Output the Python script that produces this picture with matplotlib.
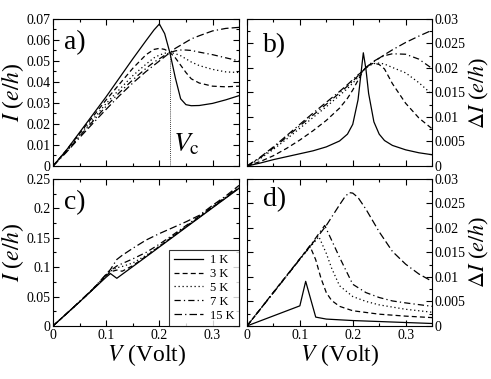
import matplotlib
matplotlib.use("Agg")
import matplotlib.pyplot as plt
from matplotlib.ticker import MultipleLocator, FuncFormatter

plt.rcParams['font.family'] = ['Liberation Serif', 'DejaVu Serif']
plt.rcParams['mathtext.fontset'] = 'stix'

temps = ["1 K", "3 K", "5 K", "7 K", "15 K"]
styles = ["-", (0, (4, 2.5)), (0, (1, 2.2)), (0, (5, 2.5, 1, 2.5)), (0, (6, 2.5, 1, 2.5, 6, 2.5))]
v_c = 0.22
i_c = 0.054

# panel a: I vs V
v_a = [0, 0.025, 0.05, 0.075, 0.1, 0.125, 0.15, 0.175, 0.19, 0.2, 0.21, 0.22, 0.23, 0.24, 0.25,
       0.26, 0.275, 0.3, 0.325, 0.35]
i_a_1 = [0, 0.0075, 0.016, 0.0245, 0.033, 0.042, 0.051, 0.0597, 0.0648, 0.0676, 0.063, 0.0537, 0.042,
         0.032, 0.0292, 0.0287, 0.0288, 0.0298, 0.0315, 0.0335]
i_a_3 = [0, 0.0075, 0.0155, 0.0235, 0.0315, 0.039, 0.0465, 0.053, 0.0555, 0.056, 0.0555, 0.054, 0.0515,
         0.048, 0.0445, 0.0415, 0.0395, 0.038, 0.0377, 0.038]
i_a_5 = [0, 0.007, 0.0148, 0.0222, 0.0298, 0.0365, 0.043, 0.0485, 0.0515, 0.0528, 0.0537, 0.054, 0.0535,
         0.0525, 0.051, 0.0495, 0.0478, 0.046, 0.0448, 0.0445]
i_a_7 = [0, 0.0068, 0.0142, 0.0213, 0.0285, 0.035, 0.041, 0.0465, 0.0495, 0.051, 0.0527, 0.054, 0.0548,
         0.0552, 0.0552, 0.055, 0.0542, 0.053, 0.0515, 0.050]
i_a_15 = [0, 0.0065, 0.0135, 0.0203, 0.027, 0.0335, 0.0395, 0.045, 0.048, 0.050, 0.052, 0.054, 0.056,
          0.0575, 0.059, 0.0605, 0.062, 0.0643, 0.0655, 0.066]

# panel b: delta I vs V
v_b = [0, 0.025, 0.05, 0.075, 0.1, 0.125, 0.15, 0.175, 0.19, 0.2, 0.21, 0.215, 0.22, 0.225, 0.23, 0.24,
       0.25, 0.26, 0.275, 0.3, 0.325, 0.35]
d_b_1 = [0, 0.0006, 0.0013, 0.0019, 0.0025, 0.0031, 0.0039, 0.0051, 0.0065, 0.0085, 0.0135, 0.0183,
         0.0231, 0.0197, 0.0148, 0.009, 0.0065, 0.0052, 0.0042, 0.0033, 0.0027, 0.0023]
d_b_3 = [0, 0.0009, 0.0021, 0.0036, 0.0053, 0.0072, 0.0093, 0.0118, 0.0138, 0.0155, 0.0175, 0.0185,
         0.0195, 0.0201, 0.0206, 0.021, 0.0207, 0.0198, 0.0168, 0.0128, 0.0098, 0.0076]
d_b_5 = [0, 0.0015, 0.0034, 0.0055, 0.0077, 0.0099, 0.0121, 0.0144, 0.0158, 0.0169, 0.0181, 0.0188,
         0.0195, 0.02, 0.0204, 0.0209, 0.021, 0.0208, 0.0201, 0.019, 0.017, 0.0146]
d_b_7 = [0, 0.0017, 0.0037, 0.0059, 0.0082, 0.0104, 0.0126, 0.0149, 0.0163, 0.0173, 0.0184, 0.019,
         0.0195, 0.0201, 0.0206, 0.0214, 0.022, 0.0225, 0.0229, 0.0228, 0.0218, 0.0199]
d_b_15 = [0, 0.0018, 0.0039, 0.0062, 0.0085, 0.0108, 0.013, 0.0152, 0.0166, 0.0176, 0.0186, 0.019,
          0.0195, 0.02, 0.0205, 0.0213, 0.022, 0.0227, 0.0237, 0.0252, 0.0265, 0.0277]

# panel c: I vs V
v_cc = [0, 0.025, 0.05, 0.075, 0.1, 0.108, 0.12, 0.13, 0.15, 0.175, 0.2, 0.225, 0.25, 0.275, 0.3, 0.325, 0.35]
i_c_1 = [0, 0.0205, 0.041, 0.062, 0.083, 0.089, 0.081, 0.0877, 0.1009, 0.1175, 0.1342, 0.1508, 0.1675,
         0.1841, 0.2008, 0.2174, 0.234]
i_c_3 = [0, 0.0205, 0.041, 0.0622, 0.085, 0.092, 0.095, 0.093, 0.1025, 0.1185, 0.1352, 0.152, 0.1685,
         0.185, 0.2015, 0.218, 0.2348]
i_c_5 = [0, 0.0205, 0.0412, 0.0625, 0.086, 0.093, 0.099, 0.101, 0.107, 0.12, 0.1358, 0.1525, 0.169,
         0.1855, 0.202, 0.2185, 0.2352]
i_c_7 = [0, 0.0205, 0.0413, 0.0627, 0.087, 0.094, 0.102, 0.106, 0.114, 0.125, 0.139, 0.1545, 0.1705,
         0.1865, 0.2028, 0.2192, 0.236]
i_c_15 = [0, 0.0205, 0.0415, 0.063, 0.088, 0.096, 0.113, 0.12, 0.132, 0.146, 0.157, 0.167, 0.177,
          0.188, 0.205, 0.221, 0.239]

# panel d: delta I vs V
v_d_1 = [0, 0.1, 0.111, 0.13, 0.15, 0.2, 0.25, 0.3, 0.35]
d_d_1 = [0, 0.0041, 0.0091, 0.0018, 0.0014, 0.0011, 0.0009, 0.0007, 0.0005]
v_d_3 = [0, 0.025, 0.05, 0.075, 0.1, 0.119, 0.13, 0.14, 0.15, 0.16, 0.175, 0.2, 0.25, 0.3, 0.35]
d_d_3 = [0, 0.0034, 0.0069, 0.0103, 0.0137, 0.0163, 0.0135, 0.0097, 0.0068, 0.0052, 0.004, 0.0031,
         0.0024, 0.002, 0.0017]
v_d_5 = [0, 0.025, 0.05, 0.075, 0.1, 0.125, 0.136, 0.15, 0.16, 0.175, 0.2, 0.225, 0.25, 0.3, 0.35]
d_d_5 = [0, 0.0034, 0.0068, 0.0102, 0.0136, 0.0168, 0.0182, 0.0148, 0.0118, 0.0082, 0.006, 0.005,
         0.0043, 0.0034, 0.0028]
v_d_7 = [0, 0.025, 0.05, 0.075, 0.1, 0.125, 0.147, 0.16, 0.175, 0.2, 0.225, 0.25, 0.275, 0.3, 0.35]
d_d_7 = [0, 0.0034, 0.0068, 0.0102, 0.0137, 0.0172, 0.0205, 0.0175, 0.014, 0.0085, 0.0068, 0.0058,
         0.0051, 0.0047, 0.004]
v_d_15 = [0, 0.025, 0.05, 0.075, 0.1, 0.125, 0.15, 0.175, 0.185, 0.193, 0.2, 0.21, 0.225, 0.25, 0.275,
          0.3, 0.325, 0.35]
d_d_15 = [0, 0.0034, 0.0068, 0.0102, 0.0136, 0.017, 0.0205, 0.0247, 0.0263, 0.0272, 0.0271, 0.0262,
          0.0238, 0.0192, 0.0152, 0.0126, 0.0106, 0.0091]

fmt = FuncFormatter(lambda x, pos: f"{x:g}")


def style_axes(ax, ymax, ymaj, ymin_, right=False, xlabels=False):
    ax.set_xlim(0, 0.35)
    ax.set_ylim(0, ymax)
    ax.xaxis.set_major_locator(MultipleLocator(0.1))
    ax.xaxis.set_minor_locator(MultipleLocator(0.05))
    ax.yaxis.set_major_locator(MultipleLocator(ymaj))
    ax.yaxis.set_minor_locator(MultipleLocator(ymin_))
    ax.xaxis.set_major_formatter(fmt)
    ax.yaxis.set_major_formatter(fmt)
    ax.tick_params(which="both", direction="in", top=True, bottom=True, left=True, right=True,
                   labelleft=not right, labelright=right, labelbottom=xlabels, labelsize=10, pad=2)
    ax.tick_params(which="major", length=4, width=0.8)
    ax.tick_params(which="minor", length=2.2, width=0.8)
    for s in ax.spines.values():
        s.set_linewidth(0.8)


fig = plt.figure(figsize=(4.91, 3.79), dpi=100)
ax_a = fig.add_axes([0.108, 0.562, 0.379, 0.388])
ax_b = fig.add_axes([0.503, 0.562, 0.377, 0.388])
ax_c = fig.add_axes([0.108, 0.140, 0.379, 0.388])
ax_d = fig.add_axes([0.503, 0.140, 0.377, 0.388])

for y, ls in zip([i_a_1, i_a_3, i_a_5, i_a_7, i_a_15], styles):
    ax_a.plot(v_a, y, color="black", lw=0.9, linestyle=ls)
for y, ls in zip([d_b_1, d_b_3, d_b_5, d_b_7, d_b_15], styles):
    ax_b.plot(v_b, y, color="black", lw=0.9, linestyle=ls)
for y, ls, t in zip([i_c_1, i_c_3, i_c_5, i_c_7, i_c_15], styles, temps):
    ax_c.plot(v_cc, y, color="black", lw=0.9, linestyle=ls, label=t)
for x, y, ls in zip([v_d_1, v_d_3, v_d_5, v_d_7, v_d_15], [d_d_1, d_d_3, d_d_5, d_d_7, d_d_15], styles):
    ax_d.plot(x, y, color="black", lw=0.9, linestyle=ls)

ax_a.plot([v_c, v_c], [0, i_c], color="black", lw=0.6, linestyle=(0, (1, 1.5)))
ax_a.text(v_c + 0.006, 0.0068, r"$V_{\rm c}$", fontsize=20, va="baseline")

style_axes(ax_a, 0.07, 0.01, 0.005)
style_axes(ax_b, 0.03, 0.005, 0.0025, right=True)
style_axes(ax_c, 0.25, 0.05, 0.025, xlabels=True)
style_axes(ax_d, 0.03, 0.005, 0.0025, right=True, xlabels=True)

ax_a.set_ylabel(r"$I$ ($e/h$)", fontsize=17, labelpad=0)
ax_c.set_ylabel(r"$I$ ($e/h$)", fontsize=17, labelpad=0)
ax_b.set_ylabel(r"$\Delta I$ ($e/h$)", fontsize=16, labelpad=1)
ax_b.yaxis.set_label_position("right")
ax_d.set_ylabel(r"$\Delta I$ ($e/h$)", fontsize=16, labelpad=1)
ax_d.yaxis.set_label_position("right")
ax_c.set_xlabel(r"$V$ (Volt)", fontsize=17, labelpad=0)
ax_d.set_xlabel(r"$V$ (Volt)", fontsize=17, labelpad=0)

ax_a.text(0.06, 0.84, "a)", transform=ax_a.transAxes, fontsize=20, va="center")
ax_b.text(0.085, 0.82, "b)", transform=ax_b.transAxes, fontsize=20, va="center")
ax_c.text(0.06, 0.84, "c)", transform=ax_c.transAxes, fontsize=20, va="center")
ax_d.text(0.085, 0.86, "d)", transform=ax_d.transAxes, fontsize=20, va="center")

leg = ax_c.legend(loc="lower right", fontsize=9, frameon=True, fancybox=False, borderaxespad=0,
                  handlelength=2.3, handletextpad=0.6, labelspacing=0.15, borderpad=0.35)
leg.get_frame().set_edgecolor("black")
leg.get_frame().set_linewidth(0.8)

fig.savefig("out.png", dpi=100)
